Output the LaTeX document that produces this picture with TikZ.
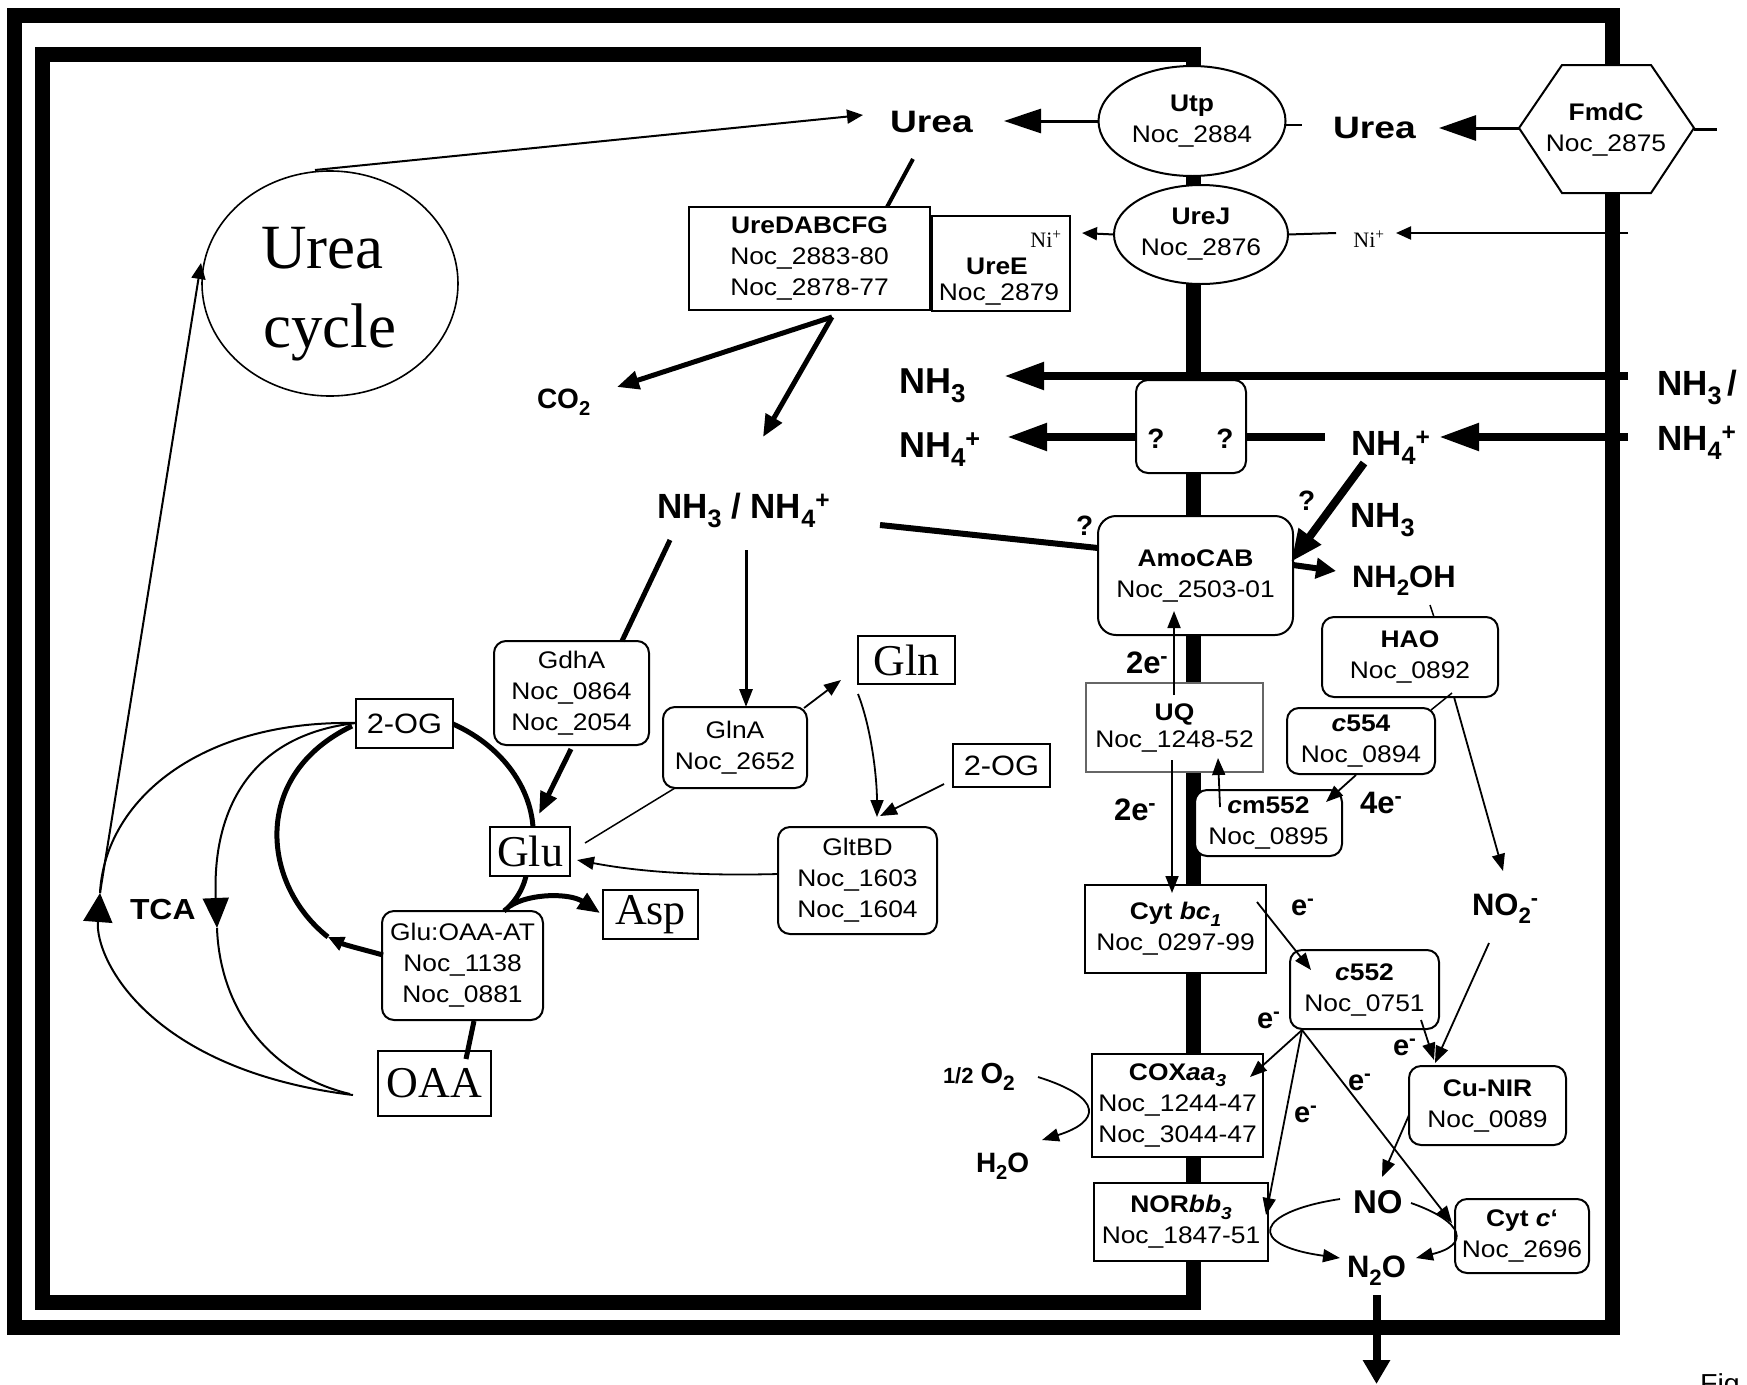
\documentclass[tikz,border=0pt]{standalone}
\usepackage{fontspec}
\setmainfont{Liberation Sans}[FakeStretch=1.1]
\newfontfamily\nsans{Liberation Sans}
\newfontfamily\wsans{Liberation Sans}[FakeStretch=1.2]
\newfontfamily\serf{Liberation Serif}
\usetikzlibrary{arrows.meta,shapes.geometric}
\newcommand\fs[1]{\fontsize{#1}{#1}\selectfont}
\newcommand\bx{\fontsize{24}{31}\selectfont}
\newcommand\sbs[1]{\raisebox{-0.27em}{\scalebox{0.72}{#1}}}
\newcommand\sps[1]{\textsuperscript{#1}}
\begin{document}
\begin{tikzpicture}[x=1pt,y=-1pt,
  every node/.style={inner sep=0pt,outer sep=0pt},
  sq/.style={draw,line width=2pt,fill=white,align=center,font=\bx},
  rd/.style={sq,rounded corners=12pt},
  ell/.style={draw,line width=2pt,ellipse,fill=white,align=center,font=\bx},
  lab/.style={anchor=base west},
  thinarr/.style={line width=1.8pt,-{Triangle[length=17pt,width=13pt]}},
  bigarr/.style={line width=8pt,-{Triangle[length=40pt,width=26pt]}},
  medarr/.style={line width=5pt,-{Triangle[length=22pt,width=18pt]}},
  membrane/.style={line width=15pt}
]
\useasboundingbox (0,0) rectangle (1747,1384);

% membranes
\draw[membrane] (14.5,15) rectangle (1612,1327);
\draw[membrane] (42.5,54) rectangle (1193,1302);

% urea cycle
\node[draw,line width=1.6pt,ellipse,fill=white,minimum width=256pt,minimum height=225pt] (ucyc) at (330,283.5) {};
\node[anchor=base,font={\serf\fs{63}}] (ucyc1) at (322.5,268) {Urea};
\node[anchor=base,font={\serf\fs{63}}] (ucyc2) at (329.5,347) {cycle};

% membrane proteins
\node[ell,minimum width=187pt,minimum height=110pt] (utp) at (1192,121) {\textbf{Utp}\\Noc\_2884};
\node[ell,minimum width=174pt,minimum height=99pt] (urej) at (1201,234.5) {\textbf{UreJ}\\Noc\_2876};
\filldraw[fill=white,line width=2pt] (1562,65) -- (1651,65) -- (1694,128) -- (1651,193) -- (1562,193) -- (1519,128) -- cycle;
\node[align=center,font=\bx] (fmdc) at (1606,130) {\textbf{FmdC}\\Noc\_2875};
\coordinate (fmdcL) at (1519,128);
\coordinate (fmdcR) at (1694,129);

\node[sq,minimum width=241pt,minimum height=103pt] (ured) at (809.5,258.5) {\textbf{UreDABCFG}\\Noc\_2883-80\\Noc\_2878-77};
\node[sq,minimum width=138pt,minimum height=95pt] (uree) at (1001,263.5) {};
\node[anchor=base,font={\serf\fs{22}}] (niL) at (1046,247) {Ni\sps{+}};
\node[anchor=base,font={\bfseries\fs{24}}] (ureet) at (997,274) {UreE};
\node[anchor=base,font=\fs{24}] (ureen) at (999,300) {Noc\_2879};

\node[rd,minimum width=110pt,minimum height=93pt] (qq) at (1191,426.5) {};
\node[anchor=base,font={\nsans\bfseries\fs{28}}] (q1) at (1156,448) {?};
\node[anchor=base,font={\nsans\bfseries\fs{28}}] (q2) at (1225,448) {?};

\node[sq,rounded corners=18pt,minimum width=195pt,minimum height=119pt] (amo) at (1195.5,575.5) {\textbf{AmoCAB}\\Noc\_2503-01};
\node[rd,minimum width=176pt,minimum height=80pt] (hao) at (1410,657) {\textbf{HAO}\\Noc\_0892};
\node[rd,minimum width=148pt,minimum height=66pt] (c554) at (1361,741) {\textbf{\textit{c}554}\\Noc\_0894};
\node[sq,draw=black!60,line width=1.2pt,minimum width=177pt,minimum height=89pt] (uq) at (1174.5,727.5) {\textbf{UQ}\\[-4pt]Noc\_1248-52};
\node[rd,minimum width=147pt,minimum height=66pt] (cm552) at (1268.5,823) {\textbf{\textit{c}m552}\\Noc\_0895};
\node[sq,minimum width=181pt,minimum height=88pt] (cytbc) at (1175.5,929) {\textbf{Cyt \textit{bc\sbs{1}}}\\Noc\_0297-99};
\node[rd,minimum width=149pt,minimum height=79pt] (c552) at (1364.5,989.5) {\textbf{\textit{c}552}\\Noc\_0751};
\node[rd,minimum width=157pt,minimum height=79pt] (cunir) at (1487.5,1105.5) {\textbf{Cu-NIR}\\Noc\_0089};
\node[sq,minimum width=171pt,minimum height=103pt] (cox) at (1177.5,1105.5) {\textbf{COX\textit{aa\sbs{3}}}\\Noc\_1244-47\\Noc\_3044-47};
\node[sq,minimum width=174pt,minimum height=78pt] (nor) at (1181,1222) {\textbf{NOR\textit{bb\sbs{3}}}\\Noc\_1847-51};
\node[rd,minimum width=134pt,minimum height=74pt] (cytc) at (1522,1236) {\textbf{Cyt \textit{c}`}\\Noc\_2696};

% cytoplasm boxes
\node[rd,minimum width=155pt,minimum height=104pt] (gdha) at (571.5,693) {GdhA\\Noc\_0864\\Noc\_2054};
\node[rd,minimum width=144pt,minimum height=81pt] (glna) at (735,747.5) {GlnA\\Noc\_2652};
\node[sq,line width=1.5pt,minimum width=97pt,minimum height=48pt,font={\serf\fs{44}}] (gln) at (906.5,660) {Gln};
\node[sq,line width=1.5pt,minimum width=97pt,minimum height=43pt,font=\fs{28}] (og2r) at (1001.5,765.5) {2-OG};
\node[rd,minimum width=159pt,minimum height=107pt] (gltbd) at (857.5,880.5) {GltBD\\Noc\_1603\\Noc\_1604};
\node[sq,line width=1.5pt,minimum width=80pt,minimum height=49pt,font={\serf\fs{44}}] (glu) at (530,851.5) {Glu};
\node[sq,line width=1.5pt,minimum width=97pt,minimum height=49pt,font=\fs{28}] (og2l) at (404.5,723.5) {2-OG};
\node[sq,line width=1.5pt,minimum width=95pt,minimum height=49pt,font={\serf\fs{44}}] (asp) at (650.5,914.5) {Asp};
\node[sq,line width=1.5pt,minimum width=113pt,minimum height=65pt,font={\serf\fs{44}}] (oaa) at (434.5,1083.5) {OAA};
\node[rd,minimum width=161pt,minimum height=109pt] (at) at (462.5,965.5) {Glu:OAA-AT\\Noc\_1138\\Noc\_0881};

% free labels
\node[lab,font={\wsans\bfseries\fs{31}}] (ureaL) at (890,132) {Urea};
\node[lab,font={\wsans\bfseries\fs{31}}] (ureaR) at (1333,138) {Urea};
\node[anchor=base,font={\serf\fs{22}}] (niR) at (1369,247) {Ni\sps{+}};
\node[lab,font={\nsans\bfseries\fs{36}}] (nh3L) at (899,393) {NH\sbs{3}};
\node[lab,font={\nsans\bfseries\fs{36}}] (nh4L) at (899,457) {NH\sbs{4}\sps{+}};
\node[lab,font={\nsans\bfseries\fs{35}}] (nh4M) at (1351,455) {NH\sbs{4}\sps{+}};
\node[lab,font={\nsans\bfseries\fs{35}}] (nh3R) at (1657,395) {NH\sbs{3}\,/};
\node[lab,font={\nsans\bfseries\fs{35}}] (nh4R) at (1657,450) {NH\sbs{4}\sps{+}};
\node[lab,font={\nsans\bfseries\fs{28}}] (co2) at (537,408) {CO\sbs{2}};
\node[lab,font={\nsans\bfseries\fs{35}}] (nhc) at (657,518) {NH\sbs{3} / NH\sbs{4}\sps{+}};
\node[lab,font={\nsans\bfseries\fs{35}}] (nh3A) at (1350,527) {NH\sbs{3}};
\node[lab,font={\nsans\bfseries\fs{31}}] (nh2oh) at (1352,587) {NH\sbs{2}OH};
\node[lab,font={\nsans\bfseries\fs{31}}] (no2) at (1472,915) {NO\sbs{2}\sps{-}};
\node[lab,font={\nsans\bfseries\fs{28}}] (qa) at (1076,535) {?};
\node[lab,font={\nsans\bfseries\fs{28}}] (qb) at (1298,510) {?};
\node[lab,font={\nsans\bfseries\fs{31}}] (e2a) at (1126,673) {2e\sps{-}};
\node[lab,font={\nsans\bfseries\fs{31}}] (e2b) at (1114,820) {2e\sps{-}};
\node[lab,font={\nsans\bfseries\fs{31}}] (e4) at (1360,813) {4e\sps{-}};
\node[lab,font={\nsans\bfseries\fs{29}}] (ea) at (1291,915) {e\sps{-}};
\node[lab,font={\nsans\bfseries\fs{29}}] (eb) at (1257,1028) {e\sps{-}};
\node[lab,font={\nsans\bfseries\fs{29}}] (ec) at (1393,1055) {e\sps{-}};
\node[lab,font={\nsans\bfseries\fs{29}}] (ed) at (1348,1090) {e\sps{-}};
\node[lab,font={\nsans\bfseries\fs{29}}] (ee) at (1294,1122) {e\sps{-}};
\node[lab,font={\nsans\bfseries}] (o2) at (943,1083) {{\fs{22}1/2}\hspace{7pt}{\fs{29}O\sbs{2}}};
\node[lab,font={\nsans\bfseries\fs{28}}] (h2o) at (976,1172) {H\sbs{2}O};
\node[lab,font={\nsans\bfseries\fs{33}}] (no) at (1353,1213) {NO};
\node[lab,font={\nsans\bfseries\fs{31}}] (n2o) at (1347,1277) {N\sbs{2}O};
\node[lab,font={\bfseries\fs{29}}] (tca) at (130,919) {TCA};
\node[lab,font=\fs{26}] (fig) at (1700,1392) {Fig};

% transport connectors
\draw[line width=3pt,-{Triangle[length=37pt,width=24pt]}] (utp.west) -- (1004,121);
\draw[line width=2pt] (1286,125) -- (1302,125);
\draw[line width=3pt,-{Triangle[length=37pt,width=25pt]}] (fmdcL) -- (1439,128);
\draw[line width=3pt] (fmdcR) -- (1717,129);
\draw[line width=2pt,-{Triangle[length=15pt,width=13pt]}] (urej.west) -- (1082,233);
\draw[line width=2pt] (urej.east) -- (1336,233);
\draw[line width=2pt,-{Triangle[length=15pt,width=13pt]}] (1628,233) -- (1396,233);
\draw[line width=4pt] (913,159) -- (ured.north -| 887,0);
\draw[medarr] (832,317) -- (617,387);
\draw[medarr] (832,317) -- (763,437);
\draw[bigarr] (1628,376) -- (1004,376);
\draw[bigarr] (1136,437) -- (1007,437);
\draw[line width=8pt] (1246,437) -- (1325,437);
\draw[bigarr] (1628,437) -- (1439,437);
\draw[line width=8pt,-{Triangle[length=32pt,width=26pt]}] (1364,463) -- (1291,562);
\draw[line width=6pt,-{Triangle[length=20pt,width=20pt]}] (1293,565) -- (1336,571);
\draw[line width=6pt] (880,525) -- (amo.west |- 0,548);

% electron transport
\draw[line width=1.5pt] (1430,605) -- (hao.north -| 1434,0);
\draw[line width=1.5pt] (1452,693) -- (1431,710);
\draw[thinarr] (1454,697) -- (1503,871);
\draw[thinarr] (1356,775) -- (1326,802);
\draw[thinarr] (1174,695) -- (1174,611);
\draw[thinarr] (1172,760) -- (1172,893);
\draw[thinarr] (1220,807) -- (1218,758);
\draw[thinarr] (1257,902) -- (1311,970);
\draw[thinarr] (1489,943) -- (1435,1063);
\draw[thinarr] (1421,1020) -- (1434,1060);
\draw[thinarr] (1409,1115) -- (1382,1177);
\draw[thinarr] (1302,1030) -- (1250,1077);
\draw[thinarr] (1302,1030) -- (1266,1215);
\draw[thinarr] (1302,1030) -- (1452,1223);
\draw[thinarr] (1038,1077) .. controls (1105,1098) and (1100,1122) .. (1042,1140);
\draw[thinarr] (1340,1199) .. controls (1255,1212) and (1245,1245) .. (1340,1258);
\draw[thinarr] (1411,1203) .. controls (1465,1222) and (1470,1245) .. (1416,1258);
\draw[line width=8pt,-{Triangle[length=24pt,width=26pt]}] (1376.5,1295) -- (1376.5,1384);

% cytoplasm connectors
\draw[line width=2pt,-{Triangle[length=16pt,width=14pt]}] (315,170) -- (863,115);
\draw[line width=2pt,-{Triangle[length=16pt,width=14pt]}] (100,893) -- (201,263);
\draw[line width=5pt] (670,540) -- (622,641);
\draw[line width=5pt,-{Triangle[length=22pt,width=17pt]}] (571,749) -- (539,814);
\draw[line width=3pt,-{Triangle[length=18pt,width=13pt]}] (746,550) -- (746,707);
\draw[thinarr] (804,708) -- (841,680);
\draw[line width=1.5pt] (675,788) -- (585,843);
\draw[thinarr] (858,694) .. controls (872,730) and (877,780) .. (877,817);
\draw[thinarr] (944,784) -- (880,816);
\draw[thinarr] (778,874) .. controls (700,876) and (640,872) .. (577,860);
\draw[line width=5pt] (453,724) .. controls (500,745) and (530,785) .. (533,827);
\draw[line width=5pt] (526,876) .. controls (522,893) and (512,905) .. (504,911);
\draw[line width=5pt,-{Triangle[length=16pt,width=14pt]}] (383,955) .. controls (365,950) and (345,945) .. (328,937);
\draw[line width=5pt] (328,937) .. controls (262,885) and (250,775) .. (352,726);
\draw[medarr] (510,906) .. controls (530,893) and (570,893) .. (600,913);
\draw[line width=5pt] (474,1021) -- (466,1059);
\draw[line width=2pt,-{Triangle[length=29pt,width=29pt]}] (353,1095) .. controls (150,1070) and (95,960) .. (100,893);
\draw[line width=2pt] (100,893) .. controls (105,800) and (200,720) .. (356,723);
\draw[line width=2pt,-{Triangle[length=30pt,width=26pt]}] (356,723) .. controls (250,735) and (212,810) .. (217,928);
\draw[line width=2pt] (217,928) .. controls (220,1010) and (270,1075) .. (350,1094);
\end{tikzpicture}
\end{document}
